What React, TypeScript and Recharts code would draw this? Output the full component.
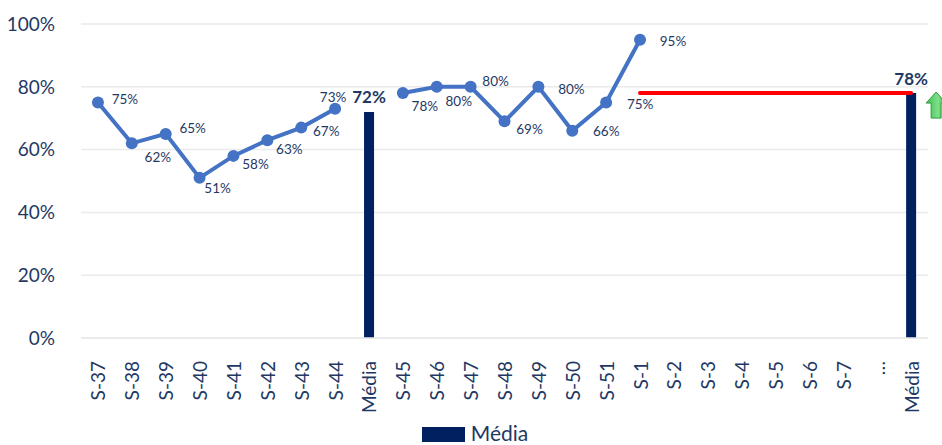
import React from "react";
import {
  ComposedChart,
  Line,
  Bar,
  XAxis,
  YAxis,
  CartesianGrid,
  Legend,
  LabelList,
} from "recharts";

const semanas = [
  "S-37", "S-38", "S-39", "S-40", "S-41", "S-42", "S-43", "S-44",
  "Média",
  "S-45", "S-46", "S-47", "S-48", "S-49", "S-50", "S-51",
  "S-1", "S-2", "S-3", "S-4", "S-5", "S-6", "S-7", "…",
  "Média",
];

const taxa = [
  75, 62, 65, 51, 58, 63, 67, 73,
  null,
  78, 80, 80, 69, 80, 66, 75,
  95, null, null, null, null, null, null, null,
  null,
];

const media = [
  null, null, null, null, null, null, null, null,
  72,
  null, null, null, null, null, null, null,
  null, null, null, null, null, null, null, null,
  78,
];

const meta = [
  null, null, null, null, null, null, null, null,
  null,
  null, null, null, null, null, null, null,
  78, 78, 78, 78, 78, 78, 78, 78,
  78,
];

const yTicks = [0, 20, 40, 60, 80, 100];

const dados = semanas.map((s, i) => ({
  semana: s,
  taxa: taxa[i],
  media: media[i],
  meta: meta[i],
}));

const NAVY = "#1F3864";
const FONT = "Lato, 'Open Sans', sans-serif";

// onde cada rótulo da linha fica em relação ao ponto (dx, dy)
const POS_ROTULO: Record<string, [number, number]> = {
  "S-37": [27, -4],
  "S-38": [26, 14],
  "S-39": [27, -6],
  "S-40": [18, 10],
  "S-41": [22, 8],
  "S-42": [22, 9],
  "S-43": [25, 3],
  "S-44": [-2, -12],
  "S-45": [22, 13],
  "S-46": [22, 14],
  "S-47": [25, -6],
  "S-48": [25, 8],
  "S-49": [33, 2],
  "S-50": [34, 0],
  "S-51": [34, 1],
  "S-1": [33, 1],
};

function RotuloTaxa(props: any) {
  const { x, y, value, index } = props;
  if (value == null) return null;
  const [dx, dy] = POS_ROTULO[semanas[index]] ?? [25, 0];
  return (
    <text
      x={x + dx}
      y={y + dy}
      textAnchor="middle"
      dominantBaseline="central"
      fill={NAVY}
      fontSize={13.5}
      fontFamily={FONT}
    >
      {value}%
    </text>
  );
}

function RotuloMedia(props: any) {
  const { x, y, width, value } = props;
  if (value == null) return null;
  const cx = x + width / 2;
  const subiu = value > (media[8] as number);
  return (
    <g>
      <text
        x={cx}
        y={y - 15}
        textAnchor="middle"
        dominantBaseline="central"
        fill={NAVY}
        fontSize={17}
        fontWeight="bold"
        fontFamily={FONT}
      >
        {value}%
      </text>
      {subiu && (
        <g>
          <defs>
            <linearGradient id="seta" x1="0" y1="0" x2="1" y2="0">
              <stop offset="0%" stopColor="#3FBF4F" />
              <stop offset="60%" stopColor="#7EE08A" />
              <stop offset="100%" stopColor="#2FA83E" />
            </linearGradient>
          </defs>
          <polygon
            points={`${cx + 25},${y - 1} ${cx + 35},${y + 10} ${cx + 30},${y + 10} ${cx + 30},${y + 25} ${cx + 20},${y + 25} ${cx + 20},${y + 10} ${cx + 15},${y + 10}`}
            fill="url(#seta)"
            stroke="#2E9E3E"
            strokeWidth={1}
          />
        </g>
      )}
    </g>
  );
}

function TickSemana(props: any) {
  const { x, y, payload } = props;
  return (
    <text
      transform={`translate(${x},${y + 15}) rotate(-90)`}
      textAnchor="end"
      dominantBaseline="central"
      fill={NAVY}
      fontSize={19}
      fontFamily={FONT}
    >
      {payload.value}
    </text>
  );
}

function Legenda() {
  return (
    <div
      style={{
        height: 27,
        display: "flex",
        justifyContent: "center",
        alignItems: "flex-start",
        paddingLeft: 22,
        fontFamily: FONT,
        color: NAVY,
      }}
    >
      <span
        style={{
          width: 43,
          height: 15,
          marginTop: 9,
          background: "#002060",
          display: "inline-block",
        }}
      />
      <span style={{ marginLeft: 6, marginTop: 4, fontSize: 21, lineHeight: "21px" }}>
        Média
      </span>
    </div>
  );
}

export default function App() {
  return (
    <div style={{ position: "fixed", left: 0, top: 0, background: "#fff" }}>
      <ComposedChart
        width={942}
        height={445}
        data={dados}
        margin={{ top: 24, right: 14, bottom: 0, left: 0 }}
      >
        <CartesianGrid vertical={false} stroke="#EAEAEA" strokeWidth={1.5} />
        <XAxis
          dataKey="semana"
          interval={0}
          height={80}
          tick={<TickSemana />}
          tickLine={false}
          axisLine={{ stroke: "#EAEAEA", strokeWidth: 1.5 }}
        />
        <YAxis
          domain={[0, 100]}
          ticks={yTicks}
          width={81}
          tickFormatter={(v: number) => `${v}%`}
          tick={{ fill: NAVY, fontSize: 19, fontFamily: FONT }}
          tickLine={false}
          axisLine={false}
          tickMargin={20}
        />
        <Legend content={<Legenda />} verticalAlign="bottom" />
        <Bar
          dataKey="media"
          name="Média"
          fill="#002060"
          barSize={10}
          isAnimationActive={false}
        >
          <LabelList dataKey="media" content={<RotuloMedia />} />
        </Bar>
        <Line
          dataKey="taxa"
          stroke="#4472C4"
          strokeWidth={4}
          dot={{ r: 6, fill: "#4472C4", stroke: "none" }}
          activeDot={false}
          connectNulls={false}
          legendType="none"
          isAnimationActive={false}
        >
          <LabelList dataKey="taxa" content={<RotuloTaxa />} />
        </Line>
        <Line
          dataKey="meta"
          stroke="#FF0000"
          strokeWidth={4}
          strokeLinecap="round"
          dot={false}
          activeDot={false}
          legendType="none"
          isAnimationActive={false}
        />
      </ComposedChart>
    </div>
  );
}
